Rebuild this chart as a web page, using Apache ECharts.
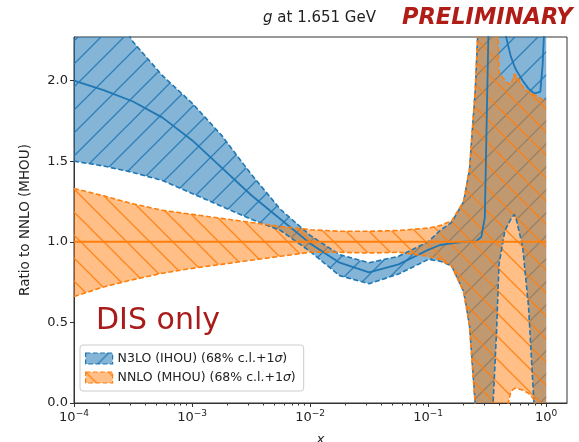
<!DOCTYPE html>
<html>
<head>
<meta charset="utf-8">
<script src="https://cdn.jsdelivr.net/npm/echarts@6/dist/echarts.min.js"></script>
<style>
    html, body { margin: 0; padding: 0; background: #fff; }
    #chart { width: 579px; height: 442px; }
</style>
</head>
<body>
<div id="chart"></div>
<script>
    // x 采样点 (读图所得)
    var xs = [0.0001, 0.000178, 0.000316, 0.000562, 0.001, 0.00178, 0.00316, 0.00562,
        0.01, 0.0178, 0.0316, 0.0562, 0.1, 0.126, 0.158, 0.2, 0.224, 0.251, 0.282,
        0.302, 0.316, 0.339, 0.355, 0.38, 0.398, 0.447, 0.501, 0.537, 0.562, 0.631,
        0.708, 0.794, 0.891, 0.933, 1.0]

    // N3LO (IHOU) 中心值 / 上下界
    var n3loMid = [2.00, 1.94, 1.87, 1.77, 1.63, 1.46, 1.29, 1.14,
        0.99, 0.87, 0.81, 0.86, 0.95, 0.98, 0.99, 1.00, 1.00, 1.00, 1.03,
        1.15, 1.90, 3.00, 3.00, 3.00, 3.00, 2.30, 2.15, 2.09, 2.06, 2.00,
        1.95, 1.92, 1.93, 2.10, 2.60]
    var n3loHi = [2.95, 2.55, 2.24, 2.03, 1.86, 1.66, 1.42, 1.20,
        1.04, 0.92, 0.87, 0.91, 1.00, 1.07, 1.12, 1.25, 1.45, 1.95, 2.80,
        3.00, 3.00, 3.00, 3.00, 3.00, 3.00, 3.00, 3.00, 3.00, 3.00, 3.00,
        3.00, 3.00, 3.00, 3.00, 3.00]
    var n3loLo = [1.50, 1.47, 1.43, 1.38, 1.30, 1.22, 1.14, 1.07,
        0.94, 0.79, 0.74, 0.80, 0.89, 0.88, 0.85, 0.69, 0.48, -0.02, -0.60,
        -0.60, -0.60, -0.60, 0.00, 0.45, 0.86, 1.07, 1.14, 1.17, 1.13, 0.97,
        0.60, -0.05, -0.60, -0.60, -0.60]

    // NNLO (MHOU) 中心值 / 上下界
    var nnloMid = [1, 1, 1, 1, 1, 1, 1, 1, 1, 1, 1, 1, 1, 1, 1, 1, 1, 1, 1,
        1, 1, 1, 1, 1, 1, 1, 1, 1, 1, 1, 1, 1, 1, 1, 1]
    var nnloHi = [1.33, 1.285, 1.235, 1.195, 1.17, 1.145, 1.12, 1.095,
        1.075, 1.065, 1.065, 1.07, 1.085, 1.10, 1.13, 1.25, 1.45, 1.95, 2.80,
        3.00, 3.00, 3.00, 3.00, 2.60, 2.05, 2.00, 1.97, 2.04, 2.03, 1.96,
        1.93, 1.91, 1.89, 1.88, 1.88]
    var nnloLo = [0.66, 0.72, 0.765, 0.805, 0.835, 0.86, 0.885, 0.91,
        0.935, 0.935, 0.93, 0.935, 0.91, 0.89, 0.85, 0.69, 0.48, -0.02, -0.60,
        -0.60, -0.60, -0.60, -0.60, -0.60, -0.60, -0.10, 0.07, 0.09, 0.09, 0.08,
        0.06, 0.02, -0.40, -0.60, -0.60]

    var xTicks = [0.0001, 0.001, 0.01, 0.1, 1]
    var yTicks = [0, 0.5, 1.0, 1.5, 2.0]

    var blue = '#1f77b4'
    var orange = '#ff7f0e'
    var font = 'DejaVu Sans'

    // 斜线填充图案
    function hatch (fill, stroke, dir) {
        var s = 23
        var c = document.createElement('canvas')
        c.width = s
        c.height = s
        var g = c.getContext('2d')
        g.fillStyle = fill
        g.fillRect(0, 0, s, s)
        g.strokeStyle = stroke
        g.lineWidth = 1.3
        g.beginPath()
        if (dir > 0) {
            g.moveTo(-3, s + 3); g.lineTo(s + 3, -3)
            g.moveTo(-3, 3); g.lineTo(3, -3)
            g.moveTo(s - 3, s + 3); g.lineTo(s + 3, s - 3)
        } else {
            g.moveTo(-3, -3); g.lineTo(s + 3, s + 3)
            g.moveTo(-3, s - 3); g.lineTo(3, s + 3)
            g.moveTo(s - 3, -3); g.lineTo(s + 3, 3)
        }
        g.stroke()
        return { image: c, repeat: 'repeat' }
    }

    var bluePattern = hatch('rgba(31,119,180,0.55)', 'rgba(31,119,180,0.85)', 1)
    var orangePattern = hatch('rgba(255,127,14,0.5)', 'rgba(255,127,14,0.9)', -1)

    function pairs (ys) {
        return xs.map(function (x, i) { return [x, ys[i]] })
    }

    // 误差带 (多边形)
    function band (name, lo, hi, fill) {
        return {
            name: name,
            type: 'custom',
            clip: true,
            silent: true,
            data: [[0.01, 1]],
            renderItem: function (params, api) {
                var pts = []
                for (var i = 0; i < xs.length; i++) pts.push(api.coord([xs[i], hi[i]]))
                for (var j = xs.length - 1; j >= 0; j--) pts.push(api.coord([xs[j], lo[j]]))
                return { type: 'polygon', shape: { points: pts }, style: { fill: fill, stroke: null } }
            }
        }
    }

    function line (ys, color, dashed) {
        return {
            type: 'line',
            data: pairs(ys),
            symbol: 'none',
            silent: true,
            clip: true,
            z: 5,
            lineStyle: { color: color, width: dashed ? 1.6 : 1.8, type: dashed ? [5, 2.5] : 'solid' }
        }
    }

    var chart = echarts.init(document.getElementById('chart'))
    chart.setOption({
        animation: false,
        textStyle: { fontFamily: font },
        grid: {
            left: 74, right: 12, top: 37, bottom: 39,
            outerBoundsMode: 'none',
            containLabel: false,
            show: true, borderColor: '#333', borderWidth: 1
        },
        xAxis: {
            type: 'log',
            logBase: 10,
            min: 0.0001,
            max: 1.5,
            name: 'x',
            nameLocation: 'middle',
            nameGap: 30,
            nameTextStyle: { fontStyle: 'italic', fontSize: 13, color: '#222' },
            splitLine: { show: false },
            axisLine: { lineStyle: { color: '#333' } },
            axisTick: { customValues: xTicks, length: 4, lineStyle: { color: '#333' } },
            minorTick: { show: true, splitNumber: 9, length: 2.5, lineStyle: { color: '#333' } },
            axisLabel: {
                customValues: xTicks,
                margin: 6,
                color: '#222',
                formatter: function (v) {
                    var e = Math.round(Math.log10(v))
                    return '{b|10}{s|' + String(e).replace('-', '\u2212') + '}'
                },
                rich: {
                    b: { fontSize: 13, color: '#222', fontFamily: font },
                    s: { fontSize: 9, color: '#222', fontFamily: font, verticalAlign: 'top', padding: [0, 0, 8, 0] }
                }
            }
        },
        yAxis: {
            type: 'value',
            min: 0,
            max: 2.27,
            name: 'Ratio to NNLO (MHOU)',
            nameLocation: 'middle',
            nameGap: 42,
            nameTextStyle: { fontSize: 13.5, color: '#222' },
            splitLine: { show: false },
            axisLine: { show: true, lineStyle: { color: '#333' } },
            axisTick: { show: true, customValues: yTicks, length: 4, lineStyle: { color: '#333' } },
            axisLabel: {
                customValues: yTicks,
                fontSize: 13,
                color: '#222',
                margin: 6,
                formatter: function (v) { return v.toFixed(1) }
            }
        },
        legend: {
            left: 80,
            top: 345,
            orient: 'vertical',
            itemGap: 6,
            itemWidth: 27,
            itemHeight: 11,
            padding: [7, 8, 7, 5],
            backgroundColor: 'rgba(255,255,255,0.85)',
            borderColor: '#ccc',
            borderWidth: 1,
            borderRadius: 3,
            textStyle: { fontSize: 12.5, color: '#222', rich: { i: { fontStyle: 'italic', fontSize: 12.5, color: '#222' } } },
            formatter: function (name) { return name.replace('\u03c3', '{i|\u03c3}') },
            data: [
                { name: 'N3LO (IHOU) (68% c.l.+1\u03c3)', icon: 'rect', itemStyle: { color: bluePattern, borderColor: blue, borderWidth: 1.2, borderType: 'dashed' } },
                { name: 'NNLO (MHOU) (68% c.l.+1\u03c3)', icon: 'rect', itemStyle: { color: orangePattern, borderColor: orange, borderWidth: 1.2, borderType: 'dashed' } }
            ]
        },
        graphic: [
            {
                type: 'text', left: 263, top: 11, silent: true,
                style: {
                    text: '{i|g} at 1.651 GeV',
                    fontFamily: font, fontSize: 15, fill: '#222',
                    rich: { i: { fontStyle: 'italic', fontFamily: font, fontSize: 15, fill: '#222' } }
                }
            },
            {
                type: 'text', left: 402, top: 7, silent: true,
                style: { text: 'PRELIMINARY', fontFamily: font, fontSize: 22.5, fontWeight: 'bold', fontStyle: 'italic', fill: '#b01c16' }
            },
            {
                type: 'text', left: 96, top: 306, silent: true, z: 10,
                style: { text: 'DIS only', fontFamily: font, fontSize: 30, fill: '#a81c1c' }
            }
        ],
        series: [
            band('N3LO (IHOU) (68% c.l.+1\u03c3)', n3loLo, n3loHi, bluePattern),
            line(n3loMid, blue, false),
            line(n3loHi, blue, true),
            line(n3loLo, blue, true),
            band('NNLO (MHOU) (68% c.l.+1\u03c3)', nnloLo, nnloHi, orangePattern),
            line(nnloMid, orange, false),
            line(nnloHi, orange, true),
            line(nnloLo, orange, true)
        ]
    })
</script>
</body>
</html>
